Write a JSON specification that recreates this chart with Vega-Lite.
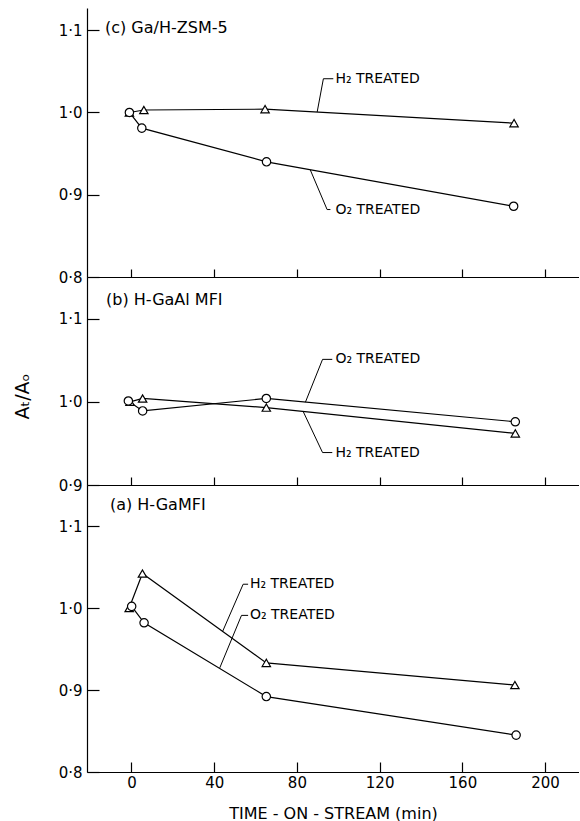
{
  "$schema": "https://vega.github.io/schema/vega-lite/v6.json",
  "padding": {"left": 13, "top": 8, "right": 0, "bottom": 0},
  "spacing": 0,
  "bounds": "flush",
  "config": {
    "font": "DejaVu Sans",
    "view": {"stroke": null},
    "axis": {
      "domainColor": "black", "domainWidth": 1.2, "tickColor": "black", "tickWidth": 1.2,
      "labelColor": "black", "labelFontSize": 15, "titleColor": "black", "titleFontWeight": "normal",
      "titleFontSize": 16, "grid": false, "minExtent": 0
    }
  },
  "resolve": {"scale": {"x": "shared", "y": "independent"}, "axis": {"x": "independent", "y": "independent"}},
  "datasets": {
    "points": [
      {"panel": "c", "treatment": "H2", "t": -1, "ratio": 1.0},
      {"panel": "c", "treatment": "H2", "t": 6, "ratio": 1.003},
      {"panel": "c", "treatment": "H2", "t": 64.6, "ratio": 1.004},
      {"panel": "c", "treatment": "H2", "t": 185, "ratio": 0.987},
      {"panel": "c", "treatment": "O2", "t": -1, "ratio": 1.0},
      {"panel": "c", "treatment": "O2", "t": 5, "ratio": 0.981},
      {"panel": "c", "treatment": "O2", "t": 65.3, "ratio": 0.94},
      {"panel": "c", "treatment": "O2", "t": 184.8, "ratio": 0.886},
      {"panel": "b", "treatment": "H2", "t": -0.7, "ratio": 1.0},
      {"panel": "b", "treatment": "H2", "t": 5.4, "ratio": 1.004},
      {"panel": "b", "treatment": "H2", "t": 65.2, "ratio": 0.993},
      {"panel": "b", "treatment": "H2", "t": 185.6, "ratio": 0.962},
      {"panel": "b", "treatment": "O2", "t": -1.5, "ratio": 1.001},
      {"panel": "b", "treatment": "O2", "t": 5.4, "ratio": 0.989},
      {"panel": "b", "treatment": "O2", "t": 65.2, "ratio": 1.004},
      {"panel": "b", "treatment": "O2", "t": 185.6, "ratio": 0.976},
      {"panel": "a", "treatment": "H2", "t": -1.1, "ratio": 1.0},
      {"panel": "a", "treatment": "H2", "t": 5.3, "ratio": 1.042},
      {"panel": "a", "treatment": "H2", "t": 65.2, "ratio": 0.933},
      {"panel": "a", "treatment": "H2", "t": 185.4, "ratio": 0.906},
      {"panel": "a", "treatment": "O2", "t": 0.1, "ratio": 1.002},
      {"panel": "a", "treatment": "O2", "t": 6.1, "ratio": 0.982},
      {"panel": "a", "treatment": "O2", "t": 65.2, "ratio": 0.892},
      {"panel": "a", "treatment": "O2", "t": 186, "ratio": 0.845}
    ],
    "leaders": [
      {"panel": "c", "id": "cH", "seq": 1, "t": 89.8, "ratio": 1.0006},
      {"panel": "c", "id": "cH", "seq": 2, "t": 92.8, "ratio": 1.041},
      {"panel": "c", "id": "cH", "seq": 3, "t": 97.6, "ratio": 1.041},
      {"panel": "c", "id": "cO", "seq": 1, "t": 86.5, "ratio": 0.93},
      {"panel": "c", "id": "cO", "seq": 2, "t": 94.6, "ratio": 0.882},
      {"panel": "c", "id": "cO", "seq": 3, "t": 96.2, "ratio": 0.882},
      {"panel": "b", "id": "bO", "seq": 1, "t": 84.1, "ratio": 0.9995},
      {"panel": "b", "id": "bO", "seq": 2, "t": 92.4, "ratio": 1.051},
      {"panel": "b", "id": "bO", "seq": 3, "t": 97.1, "ratio": 1.051},
      {"panel": "b", "id": "bH", "seq": 1, "t": 83.1, "ratio": 0.988},
      {"panel": "b", "id": "bH", "seq": 2, "t": 92.4, "ratio": 0.939},
      {"panel": "b", "id": "bH", "seq": 3, "t": 97.1, "ratio": 0.939},
      {"panel": "a", "id": "aH", "seq": 1, "t": 44, "ratio": 0.971},
      {"panel": "a", "id": "aH", "seq": 2, "t": 54, "ratio": 1.029},
      {"panel": "a", "id": "aH", "seq": 3, "t": 56.4, "ratio": 1.029},
      {"panel": "a", "id": "aO", "seq": 1, "t": 42.7, "ratio": 0.927},
      {"panel": "a", "id": "aO", "seq": 2, "t": 53.2, "ratio": 0.991},
      {"panel": "a", "id": "aO", "seq": 3, "t": 56.4, "ratio": 0.991}
    ],
    "labels": [
      {"panel": "c", "t": 98.6, "ratio": 1.041, "text": "H₂ TREATED"},
      {"panel": "c", "t": 98.6, "ratio": 0.882, "text": "O₂ TREATED"},
      {"panel": "b", "t": 98.6, "ratio": 1.051, "text": "O₂ TREATED"},
      {"panel": "b", "t": 98.6, "ratio": 0.939, "text": "H₂ TREATED"},
      {"panel": "a", "t": 57.3, "ratio": 1.029, "text": "H₂ TREATED"},
      {"panel": "a", "t": 57.3, "ratio": 0.991, "text": "O₂ TREATED"}
    ],
    "titles": [
      {"panel": "c", "t": -12.8, "ratio": 1.103, "text": "(c)  Ga/H-ZSM-5"},
      {"panel": "b", "t": -12.3, "ratio": 1.122, "text": "(b)  H-GaAl MFI"},
      {"panel": "a", "t": -10.4, "ratio": 1.126, "text": "(a)  H-GaMFI"}
    ]
  },
  "vconcat": [
    {
      "width": 492, "height": 269,
      "encoding": {
        "x": {"field": "t", "type": "quantitative", "scale": {"domain": [-21.5, 216.4], "nice": false, "zero": false},
              "axis": {"values": [0, 40, 80, 120, 160, 200], "labels": false, "tickSize": -8, "title": null}},
        "y": {"field": "ratio", "type": "quantitative", "scale": {"domain": [0.8, 1.127], "nice": false, "zero": false},
              "axis": {"values": [0.8, 0.9, 1.0, 1.1], "tickSize": -12, "labelPadding": 17, "title": null,
                       "labelExpr": "replace(format(datum.value, '.1f'), '.', '·')"}}
      },
      "layer": [
        {"data": {"name": "points"}, "transform": [{"filter": "datum.panel === 'c'"}],
         "mark": {"type": "line", "color": "black", "strokeWidth": 1.2},
         "encoding": {"detail": {"field": "treatment"}, "order": {"field": "t"}}},
        {"data": {"name": "leaders"}, "transform": [{"filter": "datum.panel === 'c'"}],
         "mark": {"type": "line", "color": "black", "strokeWidth": 1},
         "encoding": {"detail": {"field": "id"}, "order": {"field": "seq"}}},
        {"data": {"name": "points"}, "transform": [{"filter": "datum.panel === 'c'"}],
         "mark": {"type": "point", "filled": true, "fill": "white", "stroke": "black", "strokeWidth": 1.2, "size": 70, "opacity": 1},
         "encoding": {"shape": {"field": "treatment", "scale": {"domain": ["H2", "O2"], "range": ["triangle-up", "circle"]}, "legend": null}}},
        {"data": {"name": "labels"}, "transform": [{"filter": "datum.panel === 'c'"}],
         "mark": {"type": "text", "align": "left", "baseline": "middle", "fontSize": 14, "color": "black"},
         "encoding": {"text": {"field": "text"}}},
        {"data": {"name": "titles"}, "transform": [{"filter": "datum.panel === 'c'"}],
         "mark": {"type": "text", "align": "left", "baseline": "middle", "fontSize": 16, "color": "black"},
         "encoding": {"text": {"field": "text"}}},
        {"data": {"values": [{}]},
         "mark": {"type": "rule", "color": "black", "strokeWidth": 1.2},
         "encoding": {"y": {"datum": 1.127}, "x": null}}
      ]
    },
    {
      "width": 492, "height": 208,
      "encoding": {
        "x": {"field": "t", "type": "quantitative", "scale": {"domain": [-21.5, 216.4], "nice": false, "zero": false},
              "axis": {"values": [0, 40, 80, 120, 160, 200], "labels": false, "tickSize": -8, "title": null}},
        "y": {"field": "ratio", "type": "quantitative", "scale": {"domain": [0.9, 1.15], "nice": false, "zero": false},
              "axis": {"values": [0.9, 1.0, 1.1], "tickSize": -12, "labelPadding": 17, "title": "Aₜ/Aₒ", "titleFontSize": 19, "titlePadding": 26, "titleY": 119,
                       "labelExpr": "replace(format(datum.value, '.1f'), '.', '·')"}}
      },
      "layer": [
        {"data": {"name": "points"}, "transform": [{"filter": "datum.panel === 'b'"}],
         "mark": {"type": "line", "color": "black", "strokeWidth": 1.2},
         "encoding": {"detail": {"field": "treatment"}, "order": {"field": "t"}}},
        {"data": {"name": "leaders"}, "transform": [{"filter": "datum.panel === 'b'"}],
         "mark": {"type": "line", "color": "black", "strokeWidth": 1},
         "encoding": {"detail": {"field": "id"}, "order": {"field": "seq"}}},
        {"data": {"name": "points"}, "transform": [{"filter": "datum.panel === 'b'"}],
         "mark": {"type": "point", "filled": true, "fill": "white", "stroke": "black", "strokeWidth": 1.2, "size": 70, "opacity": 1},
         "encoding": {"shape": {"field": "treatment", "scale": {"domain": ["H2", "O2"], "range": ["triangle-up", "circle"]}, "legend": null}}},
        {"data": {"name": "labels"}, "transform": [{"filter": "datum.panel === 'b'"}],
         "mark": {"type": "text", "align": "left", "baseline": "middle", "fontSize": 14, "color": "black"},
         "encoding": {"text": {"field": "text"}}},
        {"data": {"name": "titles"}, "transform": [{"filter": "datum.panel === 'b'"}],
         "mark": {"type": "text", "align": "left", "baseline": "middle", "fontSize": 16, "color": "black"},
         "encoding": {"text": {"field": "text"}}}
      ]
    },
    {
      "width": 492, "height": 287,
      "encoding": {
        "x": {"field": "t", "type": "quantitative", "scale": {"domain": [-21.5, 216.4], "nice": false, "zero": false},
              "axis": {"values": [0, 40, 80, 120, 160, 200], "tickSize": -10, "labelPadding": 13, "labelFontSize": 15,
                       "title": "TIME - ON - STREAM  (min)", "titlePadding": 15}},
        "y": {"field": "ratio", "type": "quantitative", "scale": {"domain": [0.8, 1.15], "nice": false, "zero": false},
              "axis": {"values": [0.8, 0.9, 1.0, 1.1], "tickSize": -12, "labelPadding": 17, "title": null,
                       "labelExpr": "replace(format(datum.value, '.1f'), '.', '·')"}}
      },
      "layer": [
        {"data": {"name": "points"}, "transform": [{"filter": "datum.panel === 'a'"}],
         "mark": {"type": "line", "color": "black", "strokeWidth": 1.2},
         "encoding": {"detail": {"field": "treatment"}, "order": {"field": "t"}}},
        {"data": {"name": "leaders"}, "transform": [{"filter": "datum.panel === 'a'"}],
         "mark": {"type": "line", "color": "black", "strokeWidth": 1},
         "encoding": {"detail": {"field": "id"}, "order": {"field": "seq"}}},
        {"data": {"name": "points"}, "transform": [{"filter": "datum.panel === 'a'"}],
         "mark": {"type": "point", "filled": true, "fill": "white", "stroke": "black", "strokeWidth": 1.2, "size": 70, "opacity": 1},
         "encoding": {"shape": {"field": "treatment", "scale": {"domain": ["H2", "O2"], "range": ["triangle-up", "circle"]}, "legend": null}}},
        {"data": {"name": "labels"}, "transform": [{"filter": "datum.panel === 'a'"}],
         "mark": {"type": "text", "align": "left", "baseline": "middle", "fontSize": 14, "color": "black"},
         "encoding": {"text": {"field": "text"}}},
        {"data": {"name": "titles"}, "transform": [{"filter": "datum.panel === 'a'"}],
         "mark": {"type": "text", "align": "left", "baseline": "middle", "fontSize": 16, "color": "black"},
         "encoding": {"text": {"field": "text"}}}
      ]
    }
  ]
}
